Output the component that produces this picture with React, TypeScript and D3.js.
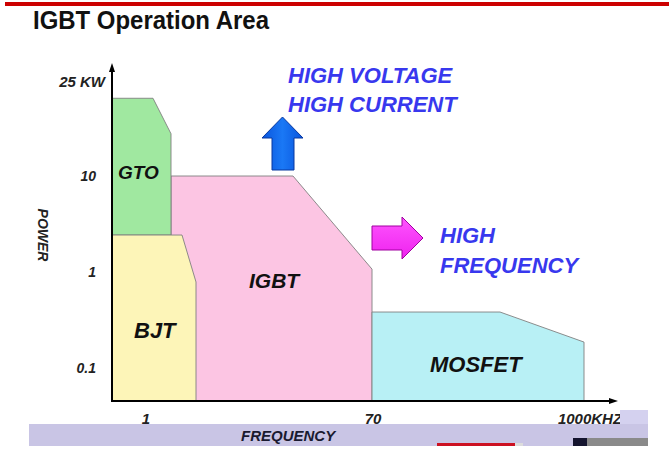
import { useEffect, useRef } from 'react';
import * as d3 from 'd3';

// schematic axes: x = frequency position, y = power in decades (log10 kW)
const xTickValues = [6.8, 35.6, 52.2, 78.2, 95.6];
const xTickLabels = ['1', '10', '70', '100KHZ', '1000KHZ'];
const xTickHidden = [false, true, false, true, false];

const yTickValues = [-1, 0, 1, 1.98];
const yTickLabels = ['0.1', '1', '10', '25 KW'];

const regionNames = ['IGBT', 'MOSFET', 'GTO', 'BJT'];
const regionColors = ['#fcc5e3', '#b8f0f5', '#a0e8a0', '#fdf5b8'];
const regionX = [
  [11.8, 36.2, 52, 52, 11.8],
  [52, 77.6, 94.4, 94.4, 52],
  [0, 8.2, 11.8, 11.8, 0],
  [0, 14, 16.8, 16.8, 0],
];
const regionY = [
  [1.0, 1.0, 0.03, -1.344, -1.344],
  [-0.417, -0.417, -0.73, -1.344, -1.344],
  [1.81, 1.81, 1.44, 0.385, 0.385],
  [0.385, 0.385, -0.104, -1.344, -1.344],
];
// label anchor (x, y baseline) in data units
const labelX = [27.4, 63.6, 1.2, 4.4];
const labelY = [-0.17, -1.04, 0.97, -0.69];
const labelSize = [21, 22, 19, 22];

export default function App() {
  const svgRef = useRef<SVGSVGElement>(null);

  useEffect(() => {
    document.body.style.margin = '0';
    if (!svgRef.current) return;
    const svg = d3.select(svgRef.current);
    svg.selectAll('*').remove();

    const width = 669;
    const height = 454;
    const font = '"Liberation Sans", Arial, sans-serif';

    svg.attr('width', width).attr('height', height).style('background', '#fff');

    const x = d3.scaleLinear().domain([0, 101]).range([112, 617]);
    const y = d3.scaleLinear().domain([-1.344, 2.167]).range([401, 64]);

    // top red rule + title
    svg.append('rect').attr('x', 5).attr('y', 2).attr('width', 664).attr('height', 4).attr('fill', '#cc0000');
    svg.append('text')
      .attr('x', 33).attr('y', 29)
      .attr('textLength', 236)
      .attr('lengthAdjust', 'spacingAndGlyphs')
      .style('font-family', font)
      .style('font-weight', 'bold')
      .style('font-size', '26px')
      .style('fill', '#111')
      .text('IGBT Operation Area');

    // regions
    const line = d3.line<[number, number]>().x(d => x(d[0])).y(d => y(d[1]));
    regionNames.forEach((name, i) => {
      const pts = regionX[i].map((v, j) => [v, regionY[i][j]] as [number, number]);
      svg.append('path')
        .attr('d', line(pts) + 'Z')
        .attr('fill', regionColors[i])
        .attr('stroke', '#808080')
        .attr('stroke-width', 0.9);
    });
    regionNames.forEach((name, i) => {
      svg.append('text')
        .attr('x', x(labelX[i])).attr('y', y(labelY[i]))
        .style('font-family', font)
        .style('font-weight', 'bold')
        .style('font-style', 'italic')
        .style('font-size', `${labelSize[i]}px`)
        .style('fill', '#111')
        .text(name);
    });

    // axes
    const ax = svg.append('g');
    ax.append('line').attr('x1', x(0)).attr('x2', x(0)).attr('y1', y(-1.344) + 1).attr('y2', 70)
      .attr('stroke', '#000').attr('stroke-width', 2);
    ax.append('path').attr('d', `M${x(0) - 3},72 L${x(0)},63 L${x(0) + 3},72 Z`).attr('fill', '#000');
    ax.append('line').attr('x1', x(0) - 1).attr('x2', 612).attr('y1', y(-1.344)).attr('y2', y(-1.344))
      .attr('stroke', '#000').attr('stroke-width', 2);
    ax.append('path').attr('d', `M609,${y(-1.344) - 3} L618,${y(-1.344)} L609,${y(-1.344) + 3} Z`).attr('fill', '#000');

    yTickValues.forEach((v, i) => {
      const last = i === yTickValues.length - 1;
      ax.append('text')
        .attr('x', last ? 105 : 96)
        .attr('y', y(v))
        .attr('dy', '0.36em')
        .attr('text-anchor', 'end')
        .style('font-family', font)
        .style('font-weight', 'bold')
        .style('font-style', 'italic')
        .style('font-size', last ? '15px' : '14px')
        .style('fill', '#222')
        .text(yTickLabels[i]);
    });

    // hidden tick labels sit behind the footer band; only their tops peek out
    defs: {
      svg.append('clipPath').attr('id', 'aboveBand')
        .append('rect').attr('x', 0).attr('y', 0).attr('width', width).attr('height', 424);
    }
    xTickValues.forEach((v, i) => {
      ax.append('text')
        .attr('x', x(v))
        .attr('y', xTickHidden[i] ? 434 : 424)
        .attr('text-anchor', 'middle')
        .attr('clip-path', xTickHidden[i] ? 'url(#aboveBand)' : null)
        .style('font-family', font)
        .style('font-weight', 'bold')
        .style('font-style', 'italic')
        .style('font-size', '15px')
        .style('fill', '#222')
        .text(xTickLabels[i]);
    });

    svg.append('text')
      .attr('transform', 'translate(38,235) rotate(90)')
      .attr('text-anchor', 'middle')
      .style('font-family', font)
      .style('font-weight', 'bold')
      .style('font-style', 'italic')
      .style('font-size', '14px')
      .style('fill', '#222')
      .text('POWER');

    // annotations
    const blue = '#3838ee';
    const notes: [string, number, number][] = [
      ['HIGH VOLTAGE', 288, 83],
      ['HIGH CURRENT', 288, 112],
      ['HIGH', 440, 243],
      ['FREQUENCY', 440, 273],
    ];
    notes.forEach(([t, nx, ny]) => {
      svg.append('text')
        .attr('x', nx).attr('y', ny)
        .style('font-family', font)
        .style('font-weight', 'bold')
        .style('font-style', 'italic')
        .style('font-size', '22px')
        .style('fill', blue)
        .text(t);
    });

    const defsEl = svg.append('defs');
    const gb = defsEl.append('linearGradient').attr('id', 'gblue').attr('x1', '0%').attr('x2', '100%');
    gb.append('stop').attr('offset', '0%').attr('stop-color', '#0a55dd');
    gb.append('stop').attr('offset', '50%').attr('stop-color', '#1a78f5');
    gb.append('stop').attr('offset', '100%').attr('stop-color', '#0a55dd');
    const gm = defsEl.append('linearGradient').attr('id', 'gmag').attr('x1', '0%').attr('x2', '0%').attr('y1', '0%').attr('y2', '100%');
    gm.append('stop').attr('offset', '0%').attr('stop-color', '#ff55ff');
    gm.append('stop').attr('offset', '100%').attr('stop-color', '#ee22ee');

    // up arrow
    svg.append('path')
      .attr('d', 'M272,170 L272,138 L262,138 L282.5,117 L303,138 L294,138 L294,170 Z')
      .attr('fill', 'url(#gblue)')
      .attr('stroke', '#0838a0')
      .attr('stroke-width', 1);
    // right arrow
    svg.append('path')
      .attr('d', 'M372,226 L402,226 L402,217 L423,238 L402,259 L402,250 L372,250 Z')
      .attr('fill', 'url(#gmag)')
      .attr('stroke', '#a000a0')
      .attr('stroke-width', 1);

    // bottom band (slide footer overlapping chart)
    svg.append('rect').attr('x', 620).attr('y', 410).attr('width', 28).attr('height', 14).attr('fill', '#d4d1ef');
    svg.append('rect').attr('x', 29).attr('y', 424).attr('width', 619).attr('height', 22).attr('fill', '#c9c5e5');
    svg.append('text')
      .attr('x', 241).attr('y', 441)
      .style('font-family', font)
      .style('font-weight', 'bold')
      .style('font-style', 'italic')
      .style('font-size', '15px')
      .style('fill', '#1a1a30')
      .text('FREQUENCY');
    svg.append('rect').attr('x', 437).attr('y', 443).attr('width', 78).attr('height', 3).attr('fill', '#cc1122');
    svg.append('rect').attr('x', 515).attr('y', 443).attr('width', 8).attr('height', 3).attr('fill', '#dcdcdc');
    svg.append('rect').attr('x', 573).attr('y', 438).attr('width', 14).attr('height', 8).attr('fill', '#14142e');
    svg.append('rect').attr('x', 587).attr('y', 438).attr('width', 61).attr('height', 8).attr('fill', '#8a8a8a');
  }, []);

  return (
    <div>
      <svg ref={svgRef} />
    </div>
  );
}
